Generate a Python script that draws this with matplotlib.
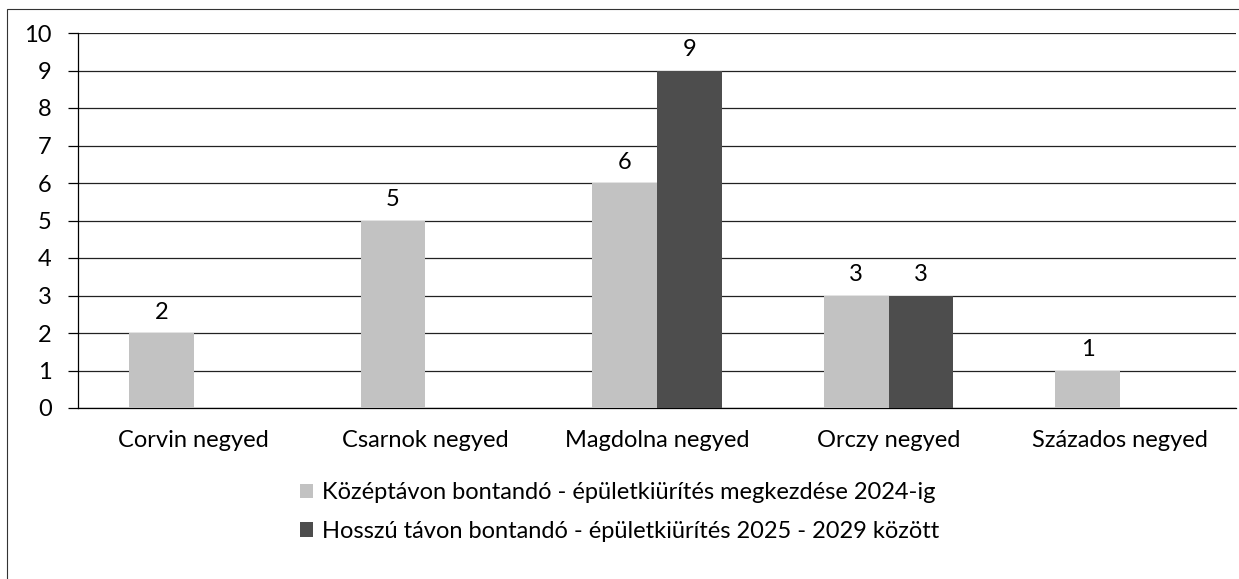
import numpy as np
import matplotlib.pyplot as plt
from matplotlib.patches import Rectangle

negyedek = ["Corvin negyed", "Csarnok negyed", "Magdolna negyed", "Orczy negyed", "Százados negyed"]
kozeptav = [2, 5, 6, 3, 1]
hosszutav = [0, 0, 9, 3, 0]
sorozatok = ["Középtávon bontandó - épületkiürítés megkezdése 2024-ig",
             "Hosszú távon bontandó - épületkiürítés 2025 - 2029 között"]

plt.rcParams["font.family"] = ["Lato", "DejaVu Sans"]

fig = plt.figure(figsize=(12.39, 5.79), dpi=100)
ax = fig.add_axes([78 / 1239, 1 - 408 / 579, 1158 / 1239, 375 / 579])

x = np.arange(len(negyedek))
w = 0.28
b1 = ax.bar(x - w / 2, kozeptav, w, color="#c2c2c2", label=sorozatok[0], zorder=3)
b2 = ax.bar(x + w / 2, hosszutav, w, color="#4d4d4d", label=sorozatok[1], zorder=3)

# ertekek a oszlopok felett
for bars, vals in ((b1, kozeptav), (b2, hosszutav)):
    for r, v in zip(bars, vals):
        if v > 0:
            ax.annotate(str(v), (r.get_x() + r.get_width() / 2, v), xytext=(0, 15),
                        textcoords="offset points", ha="center", va="center", fontsize=17)

ax.set_xlim(-0.5, len(negyedek) - 0.5)
ax.set_ylim(0, 10)
ax.set_yticks(range(0, 11))
ax.yaxis.grid(True, color="#222222", linewidth=0.9, zorder=0)
ax.set_xticks(x)
ax.set_xticklabels(negyedek)
ax.tick_params(axis="x", length=0, pad=16, labelsize=17)
ax.tick_params(axis="y", length=7, width=0.9, pad=12, labelsize=17)
for s in ("top", "right"):
    ax.spines[s].set_visible(False)
ax.spines["left"].set_linewidth(0.9)
ax.spines["bottom"].set_linewidth(0.9)

fig.legend(handles=[b1, b2], loc="upper center", bbox_to_anchor=(0.5, 1 - 461 / 579),
           frameon=False, fontsize=17, handlelength=0.55, handleheight=0.55,
           handletextpad=0.35, labelspacing=0.75)

fig.patches.append(Rectangle((7 / 1239, -0.01), 1.0, 1 - 9 / 579 + 0.01,
                             transform=fig.transFigure, fill=False,
                             edgecolor="#333333", linewidth=0.8))

fig.savefig("out.png", dpi=100)
